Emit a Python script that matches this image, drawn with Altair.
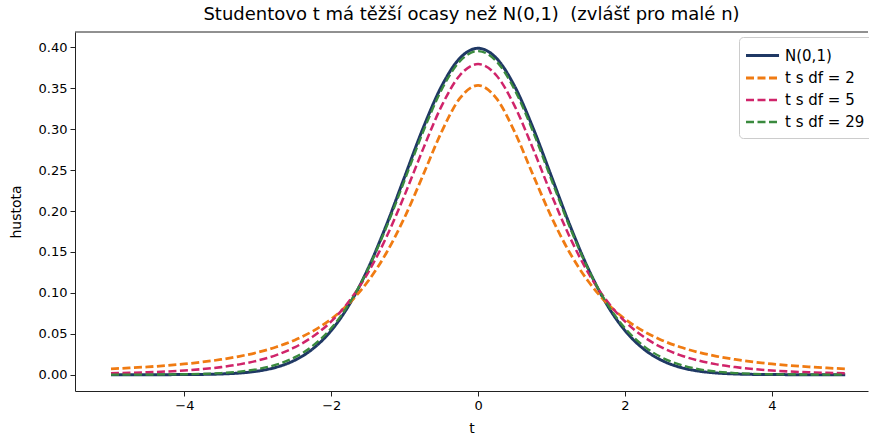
import altair as alt
import pandas as pd

t_vals = [-5.0, -4.75, -4.5, -4.25, -4.0, -3.75, -3.5, -3.25, -3.0, -2.75, -2.5, -2.25,
          -2.0, -1.75, -1.5, -1.25, -1.0, -0.75, -0.5, -0.25, 0.0, 0.25, 0.5, 0.75,
          1.0, 1.25, 1.5, 1.75, 2.0, 2.25, 2.5, 2.75, 3.0, 3.25, 3.5, 3.75, 4.0,
          4.25, 4.5, 4.75, 5.0]

normal = [0.0, 0.00001, 0.00002, 0.00005, 0.00013, 0.00035, 0.00087, 0.00203, 0.00443,
          0.00909, 0.01753, 0.03174, 0.05399, 0.08628, 0.12952, 0.18265, 0.24197,
          0.30114, 0.35207, 0.38667, 0.39894, 0.38667, 0.35207, 0.30114, 0.24197,
          0.18265, 0.12952, 0.08628, 0.05399, 0.03174, 0.01753, 0.00909, 0.00443,
          0.00203, 0.00087, 0.00035, 0.00013, 0.00005, 0.00002, 0.00001, 0.0]

t_df2 = [0.00713, 0.00821, 0.00953, 0.01113, 0.01309, 0.01553, 0.01859, 0.02246, 0.02741,
         0.03382, 0.04220, 0.05328, 0.06804, 0.08779, 0.11413, 0.14872, 0.19245,
         0.24378, 0.29630, 0.33760, 0.35355, 0.33760, 0.29630, 0.24378, 0.19245,
         0.14872, 0.11413, 0.08779, 0.06804, 0.05328, 0.04220, 0.03382, 0.02741,
         0.02246, 0.01859, 0.01553, 0.01309, 0.01113, 0.00953, 0.00821, 0.00713]

t_df5 = [0.00176, 0.00227, 0.00295, 0.00387, 0.00512, 0.00685, 0.00924, 0.01259, 0.01729,
         0.02393, 0.03333, 0.04657, 0.06509, 0.09054, 0.12452, 0.16789, 0.21968,
         0.27570, 0.32792, 0.36572, 0.37961, 0.36572, 0.32792, 0.27570, 0.21968,
         0.16789, 0.12452, 0.09054, 0.06509, 0.04657, 0.03333, 0.02393, 0.01729,
         0.01259, 0.00924, 0.00685, 0.00512, 0.00387, 0.00295, 0.00227, 0.00176]

t_df29 = [0.00004, 0.00007, 0.00014, 0.00028, 0.00054, 0.00105, 0.00200, 0.00375, 0.00686,
          0.01223, 0.02117, 0.03540, 0.05691, 0.08772, 0.12892, 0.18001, 0.23784,
          0.29649, 0.34772, 0.38293, 0.39550, 0.38293, 0.34772, 0.29649, 0.23784,
          0.18001, 0.12892, 0.08772, 0.05691, 0.03540, 0.02117, 0.01223, 0.00686,
          0.00375, 0.00200, 0.00105, 0.00054, 0.00028, 0.00014, 0.00007, 0.00004]

series_names = ["N(0,1)", "t s df = 2", "t s df = 5", "t s df = 29"]
series_colors = ["#1f3864", "#f07b12", "#d0246a", "#3a8a3e"]
series_dash = [[1, 0], [8, 3.5], [8, 3.5], [8, 3.5]]
series_width = [3, 2.3, 2.3, 2.3]

frames = []
for name, vals in zip(series_names, [normal, t_df2, t_df5, t_df29]):
    frames.append(pd.DataFrame({"t": t_vals, "hustota": vals, "serie": name}))
df = pd.concat(frames, ignore_index=True)

FONT = "DejaVu Sans"
LEG_X, LEG_Y = 664, 5
PLOT_W, PLOT_H = 793, 359

base = alt.Chart(df).mark_line(interpolate="monotone", clip=True).encode(
    x=alt.X("t:Q", title="t",
            scale=alt.Scale(domain=[-5.49, 5.31], nice=False, zero=False),
            axis=alt.Axis(values=[-4, -2, 0, 2, 4], format="d", grid=False,
                          tickSize=5, labelPadding=3, titlePadding=9)),
    y=alt.Y("hustota:Q", title="hustota",
            scale=alt.Scale(domain=[-0.01995, 0.41884], nice=False, zero=False),
            axis=alt.Axis(values=[0.0, 0.05, 0.1, 0.15, 0.2, 0.25, 0.3, 0.35, 0.4],
                          format=".2f", grid=False, tickSize=5, labelPadding=3,
                          titlePadding=15)),
    color=alt.Color("serie:N", sort=series_names,
                    scale=alt.Scale(domain=series_names, range=series_colors),
                    legend=alt.Legend(title=None, orient="none", legendX=LEG_X, legendY=LEG_Y,
                                      symbolType="M-1.35,0L2.53,0", symbolSize=290,
                                      labelFontSize=15, labelFont=FONT,
                                      rowPadding=4, padding=8, labelOffset=17,
                                      strokeColor="#cccccc", fillColor="white",
                                      cornerRadius=4, labelColor="#000000")),
    strokeDash=alt.StrokeDash("serie:N", sort=series_names,
                              scale=alt.Scale(domain=series_names, range=series_dash),
                              legend=alt.Legend(title=None, orient="none", legendX=LEG_X, legendY=LEG_Y)),
    strokeWidth=alt.StrokeWidth("serie:N", sort=series_names,
                                scale=alt.Scale(domain=series_names, range=series_width),
                                legend=alt.Legend(title=None, orient="none", legendX=LEG_X, legendY=LEG_Y)),
)

layer_normal = base.transform_filter(alt.datum.serie == "N(0,1)")
layer_t = base.transform_filter(alt.datum.serie != "N(0,1)")

top_spine = alt.Chart(pd.DataFrame({"k": [0]})).mark_rule(
    color="#222222", strokeWidth=1
).encode(x=alt.value(0), x2=alt.value(PLOT_W), y=alt.value(0))

chart = alt.layer(top_spine, layer_normal, layer_t).properties(
    width=PLOT_W, height=PLOT_H,
    background="white",
    title=alt.Title("Studentovo t má těžší ocasy než N(0,1)\u00a0 (zvlášť pro malé n)",
                    fontSize=18, font=FONT, fontWeight="normal", color="#000000",
                    anchor="middle", offset=8),
    autosize=alt.AutoSizeParams(type="none"),
    padding={"left": 75, "top": 32, "right": 1, "bottom": 46},
).configure_view(
    strokeOpacity=0
).configure_axis(
    labelFont=FONT, titleFont=FONT, labelFontSize=13, titleFontSize=14,
    titleFontWeight="normal", labelColor="#000000", titleColor="#000000",
    domainColor="#222222", tickColor="#222222", domainWidth=1
)

chart.save("out.html", embed_options={"renderer": "svg", "actions": False})
